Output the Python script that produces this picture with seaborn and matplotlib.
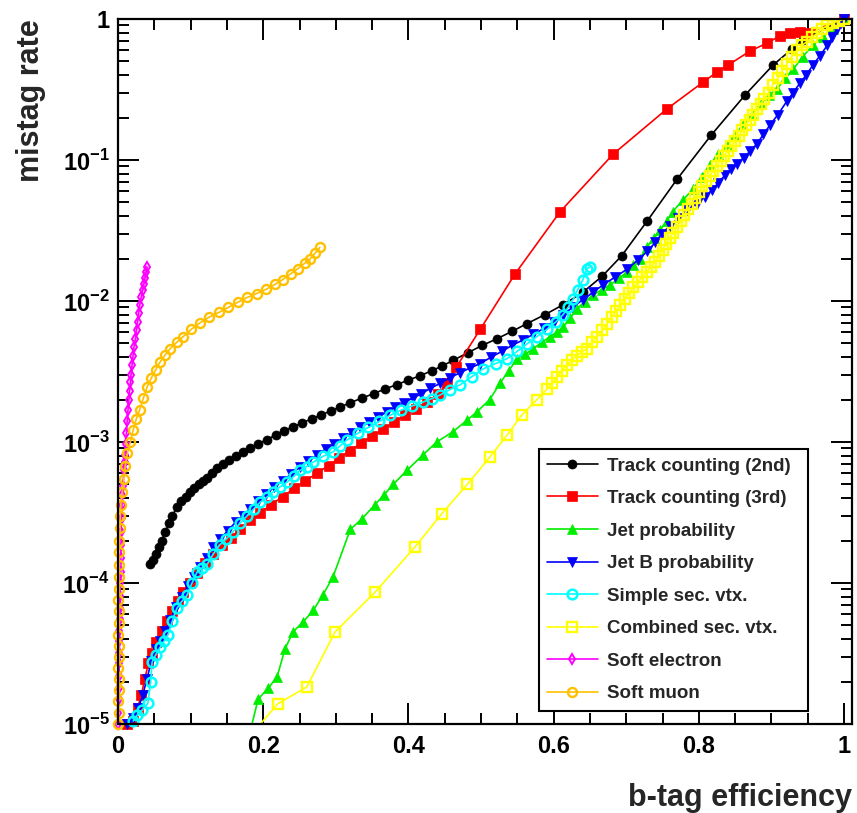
import matplotlib
matplotlib.use("Agg")
import matplotlib.pyplot as plt
import seaborn as sns
import numpy as np
from matplotlib.ticker import FixedLocator, FixedFormatter, LogLocator, NullFormatter, MultipleLocator

# ---------------- data ----------------
tc2_x = [0.044, 0.048, 0.052, 0.056, 0.060, 0.065, 0.070, 0.075, 0.081, 0.087, 0.093, 0.099, 0.105,
         0.111, 0.117, 0.123, 0.130, 0.137, 0.145, 0.153, 0.162, 0.172, 0.182, 0.193, 0.205, 0.217,
         0.229, 0.241, 0.254, 0.267, 0.280, 0.293, 0.306, 0.320, 0.336, 0.352, 0.368, 0.384, 0.400,
         0.416, 0.432, 0.446, 0.462, 0.482, 0.502, 0.522, 0.543, 0.563, 0.588, 0.613, 0.640, 0.667,
         0.694, 0.729, 0.770, 0.817, 0.864, 0.902, 0.928, 0.943, 1.0]
tc2_y = [1.36e-4, 1.45e-4, 1.6e-4, 1.8e-4, 2.0e-4, 2.3e-4, 2.65e-4, 3.0e-4, 3.45e-4, 3.8e-4, 4.1e-4,
         4.4e-4, 4.7e-4, 5.0e-4, 5.3e-4, 5.6e-4, 6.0e-4, 6.5e-4, 7.0e-4, 7.5e-4, 8.0e-4, 8.5e-4,
         9.0e-4, 9.7e-4, 1.04e-3, 1.12e-3, 1.2e-3, 1.28e-3, 1.37e-3, 1.46e-3, 1.56e-3, 1.66e-3,
         1.77e-3, 1.9e-3, 2.05e-3, 2.2e-3, 2.38e-3, 2.55e-3, 2.75e-3, 2.95e-3, 3.2e-3, 3.45e-3,
         3.8e-3, 4.3e-3, 4.85e-3, 5.4e-3, 6.1e-3, 6.9e-3, 8.0e-3, 9.4e-3, 1.15e-2, 1.5e-2, 2.1e-2,
         3.7e-2, 7.3e-2, 0.15, 0.29, 0.47, 0.61, 0.71, 1.0]

tc3_x = [0.012, 0.020, 0.027, 0.032, 0.037, 0.042, 0.047, 0.053, 0.060, 0.067, 0.074, 0.082, 0.090,
         0.099, 0.109, 0.120, 0.131, 0.143, 0.155, 0.168, 0.182, 0.196, 0.211, 0.227, 0.243, 0.258,
         0.274, 0.290, 0.305, 0.320, 0.335, 0.350, 0.365, 0.380, 0.395, 0.410, 0.426, 0.441, 0.453,
         0.466, 0.499, 0.547, 0.609, 0.682, 0.756, 0.806, 0.825, 0.840, 0.870, 0.894, 0.912, 0.926,
         0.939, 0.950, 1.0]
tc3_y = [1.0e-5, 1.05e-5, 1.3e-5, 1.6e-5, 2.1e-5, 2.7e-5, 3.2e-5, 3.8e-5, 4.6e-5, 5.4e-5, 6.3e-5,
         7.4e-5, 8.6e-5, 1.0e-4, 1.18e-4, 1.38e-4, 1.6e-4, 1.85e-4, 2.1e-4, 2.4e-4, 2.8e-4, 3.15e-4,
         3.6e-4, 4.1e-4, 4.7e-4, 5.3e-4, 6.0e-4, 6.8e-4, 7.7e-4, 8.7e-4, 9.8e-4, 1.1e-3, 1.23e-3,
         1.38e-3, 1.55e-3, 1.72e-3, 1.92e-3, 2.2e-3, 2.6e-3, 3.4e-3, 6.3e-3, 1.56e-2, 4.3e-2, 0.11,
         0.23, 0.357, 0.42, 0.47, 0.59, 0.675, 0.76, 0.80, 0.81, 0.80, 1.0]

jp_x = [0.180, 0.193, 0.207, 0.219, 0.230, 0.241, 0.255, 0.269, 0.282, 0.296, 0.320, 0.336, 0.354,
        0.366, 0.379, 0.398, 0.420, 0.439, 0.461, 0.481, 0.494, 0.512, 0.526, 0.538, 0.550, 0.561,
        0.572, 0.584, 0.595, 0.604, 0.613, 0.623, 0.632, 0.643, 0.654, 0.666, 0.678, 0.690, 0.701,
        0.710, 0.719, 0.728, 0.738, 0.747, 0.756, 0.764, 0.778, 0.792, 0.804, 0.815, 0.827, 0.839,
        0.850, 0.861, 0.873, 0.885, 0.897, 0.908, 0.919, 0.930, 0.943, 0.957, 0.971, 0.985, 1.0]
jp_y = [8.0e-6, 1.5e-5, 1.8e-5, 2.15e-5, 3.4e-5, 4.5e-5, 5.3e-5, 6.4e-5, 8.2e-5, 1.1e-4, 2.4e-4,
        2.85e-4, 3.6e-4, 4.2e-4, 5.0e-4, 6.3e-4, 8.1e-4, 1.0e-3, 1.18e-3, 1.43e-3, 1.63e-3, 2.0e-3,
        2.6e-3, 3.2e-3, 3.9e-3, 4.2e-3, 4.6e-3, 5.1e-3, 5.6e-3, 6.0e-3, 6.5e-3, 7.6e-3, 8.8e-3,
        9.9e-3, 1.1e-2, 1.2e-2, 1.3e-2, 1.45e-2, 1.6e-2, 1.8e-2, 2.0e-2, 2.4e-2, 2.8e-2, 3.2e-2,
        3.7e-2, 4.3e-2, 5.2e-2, 6.2e-2, 7.6e-2, 9.2e-2, 0.11, 0.128, 0.15, 0.177, 0.21, 0.25, 0.29,
        0.32, 0.38, 0.44, 0.54, 0.65, 0.75, 0.85, 1.0]

jbp_x = [0.013, 0.020, 0.028, 0.034, 0.040, 0.046, 0.052, 0.058, 0.065, 0.072, 0.080, 0.088, 0.096,
         0.104, 0.113, 0.122, 0.131, 0.141, 0.151, 0.162, 0.172, 0.182, 0.193, 0.204, 0.215, 0.227,
         0.238, 0.250, 0.262, 0.274, 0.286, 0.298, 0.310, 0.322, 0.334, 0.346, 0.358, 0.370, 0.382,
         0.394, 0.406, 0.418, 0.430, 0.4435, 0.457, 0.471, 0.485, 0.499, 0.514, 0.529, 0.543, 0.558,
         0.572, 0.587, 0.600, 0.613, 0.626, 0.640, 0.654, 0.668, 0.684, 0.701, 0.716, 0.729, 0.740,
         0.749, 0.760, 0.772, 0.784, 0.797, 0.808, 0.818, 0.827, 0.836, 0.845, 0.853, 0.862, 0.871,
         0.880, 0.889, 0.898, 0.909, 0.921, 0.930, 0.939, 0.948, 0.957, 0.967, 0.977, 0.984, 0.990,
         0.996, 1.0]
jbp_y = [1.0e-5, 1.1e-5, 1.3e-5, 1.6e-5, 2.1e-5, 2.8e-5, 3.4e-5, 3.9e-5, 4.6e-5, 5.5e-5, 6.8e-5,
         8.0e-5, 9.5e-5, 1.1e-4, 1.3e-4, 1.5e-4, 1.8e-4, 2.05e-4, 2.35e-4, 2.7e-4, 3.0e-4, 3.35e-4,
         3.8e-4, 4.3e-4, 4.8e-4, 5.3e-4, 5.9e-4, 6.6e-4, 7.3e-4, 8.1e-4, 8.9e-4, 9.7e-4, 1.06e-3,
         1.16e-3, 1.27e-3, 1.38e-3, 1.5e-3, 1.63e-3, 1.76e-3, 1.9e-3, 2.05e-3, 2.2e-3, 2.4e-3,
         2.6e-3, 2.85e-3, 3.1e-3, 3.35e-3, 3.6e-3, 4.0e-3, 4.4e-3, 4.85e-3, 5.3e-3, 5.8e-3, 6.4e-3,
         7.1e-3, 8.0e-3, 9.0e-3, 1.02e-2, 1.15e-2, 1.3e-2, 1.47e-2, 1.68e-2, 1.95e-2, 2.25e-2,
         2.6e-2, 3.0e-2, 3.4e-2, 3.9e-2, 4.4e-2, 4.9e-2, 5.5e-2, 6.1e-2, 6.9e-2, 7.8e-2, 8.6e-2,
         9.4e-2, 0.104, 0.116, 0.13, 0.152, 0.177, 0.21, 0.26, 0.30, 0.35, 0.40, 0.47, 0.55, 0.65,
         0.74, 0.85, 0.93, 1.0]

ssv_x = [0.021, 0.026, 0.033, 0.041, 0.045, 0.047, 0.052, 0.058, 0.064, 0.069, 0.075, 0.081, 0.088,
         0.095, 0.102, 0.109, 0.116, 0.123, 0.131, 0.140, 0.149, 0.158, 0.168, 0.178, 0.187, 0.196,
         0.205, 0.213, 0.223, 0.233, 0.242, 0.251, 0.260, 0.269, 0.282, 0.296, 0.306, 0.315, 0.330,
         0.345, 0.360, 0.375, 0.390, 0.405, 0.420, 0.432, 0.4435, 0.457, 0.471, 0.487, 0.503, 0.520,
         0.536, 0.550, 0.563, 0.577, 0.591, 0.603, 0.613, 0.620, 0.627, 0.633, 0.640, 0.646, 0.650]
ssv_y = [1.05e-5, 1.15e-5, 1.25e-5, 1.4e-5, 2.0e-5, 2.75e-5, 3.1e-5, 3.5e-5, 3.9e-5, 4.3e-5, 5.4e-5,
         6.6e-5, 7.4e-5, 8.2e-5, 1.0e-4, 1.2e-4, 1.28e-4, 1.36e-4, 1.6e-4, 1.86e-4, 2.05e-4, 2.3e-4,
         2.65e-4, 3.0e-4, 3.35e-4, 3.75e-4, 4.05e-4, 4.4e-4, 4.8e-4, 5.2e-4, 5.7e-4, 6.3e-4, 6.7e-4,
         7.2e-4, 7.9e-4, 8.5e-4, 9.4e-4, 1.03e-3, 1.15e-3, 1.27e-3, 1.4e-3, 1.55e-3, 1.68e-3, 1.8e-3,
         1.92e-3, 2.03e-3, 2.15e-3, 2.35e-3, 2.54e-3, 2.9e-3, 3.3e-3, 3.6e-3, 3.9e-3, 4.4e-3, 4.95e-3,
         5.6e-3, 6.3e-3, 7.1e-3, 8.0e-3, 9.0e-3, 1.03e-2, 1.2e-2, 1.4e-2, 1.69e-2, 1.75e-2]

csv_x = [0.180, 0.220, 0.260, 0.299, 0.354, 0.409, 0.446, 0.481, 0.512, 0.536, 0.556, 0.577, 0.591,
         0.598, 0.605, 0.611, 0.618, 0.625, 0.632, 0.639, 0.646, 0.653, 0.660, 0.667, 0.674, 0.680,
         0.686, 0.692, 0.698, 0.704, 0.710, 0.716, 0.722, 0.728, 0.734, 0.740, 0.745, 0.750, 0.755,
         0.760, 0.765, 0.770, 0.775, 0.780, 0.785, 0.790, 0.795, 0.800, 0.805, 0.810, 0.815, 0.820,
         0.825, 0.830, 0.835, 0.840, 0.845, 0.850, 0.855, 0.860, 0.865, 0.870, 0.875, 0.880, 0.885,
         0.890, 0.896, 0.902, 0.909, 0.915, 0.921, 0.928, 0.935, 0.942, 0.949, 0.956, 0.963, 0.970,
         0.977, 0.985, 0.993, 1.0]
csv_y = [8.0e-6, 1.39e-5, 1.83e-5, 4.5e-5, 8.6e-5, 1.8e-4, 3.1e-4, 5.0e-4, 7.8e-4, 1.12e-3, 1.55e-3,
         2.0e-3, 2.38e-3, 2.6e-3, 2.9e-3, 3.2e-3, 3.5e-3, 3.8e-3, 4.1e-3, 4.35e-3, 4.6e-3, 5.1e-3,
         5.6e-3, 6.2e-3, 6.9e-3, 7.7e-3, 8.5e-3, 9.3e-3, 1.03e-2, 1.14e-2, 1.25e-2, 1.36e-2, 1.48e-2,
         1.6e-2, 1.75e-2, 1.9e-2, 2.1e-2, 2.3e-2, 2.55e-2, 2.8e-2, 3.05e-2, 3.35e-2, 3.7e-2, 4.1e-2,
         4.5e-2, 4.9e-2, 5.4e-2, 5.9e-2, 6.5e-2, 7.1e-2, 7.7e-2, 8.4e-2, 9.1e-2, 9.9e-2, 0.107, 0.116,
         0.126, 0.137, 0.149, 0.162, 0.177, 0.193, 0.21, 0.23, 0.25, 0.27, 0.30, 0.34, 0.38, 0.43,
         0.48, 0.54, 0.60, 0.65, 0.69, 0.74, 0.79, 0.85, 0.90, 0.94, 0.97, 1.0]

se_x = [0.000, 0.000, 0.001, 0.001, 0.001, 0.002, 0.002, 0.002, 0.002, 0.003, 0.003, 0.003, 0.003,
        0.004, 0.004, 0.004, 0.004, 0.005, 0.0055, 0.006, 0.007, 0.008, 0.009, 0.0096, 0.0105, 0.0115,
        0.0126, 0.0138, 0.015, 0.016, 0.017, 0.018, 0.0193, 0.0207, 0.022, 0.024, 0.0255, 0.027,
        0.0285, 0.030, 0.032, 0.034, 0.0355, 0.037, 0.0385, 0.040]
se_y = [1.0e-5, 1.2e-5, 1.5e-5, 1.8e-5, 2.2e-5, 2.7e-5, 3.2e-5, 3.9e-5, 4.6e-5, 5.6e-5, 6.6e-5, 8.1e-5,
        1.0e-4, 1.2e-4, 1.5e-4, 1.85e-4, 2.3e-4, 2.9e-4, 3.6e-4, 4.2e-4, 4.9e-4, 6.3e-4, 7.2e-4,
        8.1e-4, 9.6e-4, 1.15e-3, 1.4e-3, 1.7e-3, 2.0e-3, 2.3e-3, 2.65e-3, 3.0e-3, 3.5e-3, 4.1e-3,
        4.7e-3, 5.4e-3, 6.2e-3, 7.1e-3, 8.2e-3, 9.4e-3, 1.07e-2, 1.2e-2, 1.32e-2, 1.45e-2, 1.6e-2,
        1.74e-2]

smu_x = [0.000, 0.001, 0.000, 0.002, 0.001, 0.000, 0.002, 0.001, 0.000, 0.002, 0.001, 0.000, 0.002,
         0.001, 0.002, 0.001, 0.002, 0.003, 0.003, 0.004, 0.006, 0.008, 0.010, 0.013, 0.017, 0.021,
         0.025, 0.030, 0.035, 0.040, 0.046, 0.052, 0.058, 0.065, 0.072, 0.081, 0.090, 0.101, 0.113,
         0.126, 0.139, 0.152, 0.165, 0.178, 0.191, 0.204, 0.216, 0.227, 0.238, 0.248, 0.257, 0.265,
         0.272, 0.278]
smu_y = [1.0e-5, 1.2e-5, 1.45e-5, 1.75e-5, 2.1e-5, 2.5e-5, 3.0e-5, 3.6e-5, 4.3e-5, 5.2e-5, 6.3e-5,
         7.6e-5, 9.1e-5, 1.1e-4, 1.35e-4, 1.65e-4, 2.0e-4, 2.45e-4, 3.0e-4, 3.6e-4, 4.4e-4, 5.5e-4,
         6.8e-4, 8.3e-4, 1.0e-3, 1.22e-3, 1.45e-3, 1.7e-3, 2.05e-3, 2.45e-3, 2.85e-3, 3.25e-3, 3.7e-3,
         4.15e-3, 4.6e-3, 5.1e-3, 5.6e-3, 6.3e-3, 7.0e-3, 7.7e-3, 8.3e-3, 9.0e-3, 9.8e-3, 1.06e-2,
         1.13e-2, 1.21e-2, 1.31e-2, 1.42e-2, 1.56e-2, 1.7e-2, 1.85e-2, 2.0e-2, 2.2e-2, 2.4e-2]

labels = ["Track counting (2nd)", "Track counting (3rd)", "Jet probability", "Jet B probability",
          "Simple sec. vtx.", "Combined sec. vtx.", "Soft electron", "Soft muon"]
x_ticks = [0, 0.2, 0.4, 0.6, 0.8, 1]
x_tick_labels = ["0", "0.2", "0.4", "0.6", "0.8", "1"]
y_ticks = [1e-5, 1e-4, 1e-3, 1e-2, 1e-1, 1]
y_tick_labels = [r"10$^{\mathbf{-5}}$", r"10$^{\mathbf{-4}}$", r"10$^{\mathbf{-3}}$",
                 r"10$^{\mathbf{-2}}$", r"10$^{\mathbf{-1}}$", "1"]

# ---------------- styling ----------------
sns.set_theme(style="ticks")
plt.rcParams["font.family"] = ["Liberation Sans", "DejaVu Sans"]
plt.rcParams["mathtext.fontset"] = "custom"
plt.rcParams["mathtext.rm"] = "Liberation Sans:bold"
plt.rcParams["mathtext.bf"] = "Liberation Sans:bold"

fig = plt.figure(figsize=(8.57, 8.13), dpi=100)
fig.patch.set_facecolor("white")
ax = fig.add_axes([118 / 857, 1 - 724 / 813, (852 - 118) / 857, (724 - 19) / 813])
ax.set_facecolor("white")

series = [
    (tc2_x, tc2_y, dict(color="#000000", marker="o", ms=6.5, mfc="#000000", mew=0.5, clip=False)),
    (tc3_x, tc3_y, dict(color="#FF0000", marker="s", ms=6.5, mfc="#FF0000", mew=0.5, clip=False)),
    (jp_x, jp_y, dict(color="#00EE00", marker="^", ms=7, mfc="#00EE00", mew=0.5, clip=True)),
    (jbp_x, jbp_y, dict(color="#0000FF", marker="v", ms=7, mfc="#0000FF", mew=0.5, clip=False)),
    (ssv_x, ssv_y, dict(color="#00FFFF", marker="o", ms=7, mfc="none", mew=1.8, clip=False)),
    (csv_x, csv_y, dict(color="#FFFF00", marker="s", ms=7, mfc="none", mew=1.7, clip=True)),
    (se_x, se_y, dict(color="#FF00FF", marker="d", ms=5.5, mfc="none", mew=1.4, clip=False)),
    (smu_x, smu_y, dict(color="#FFC000", marker="o", ms=6.5, mfc="none", mew=1.7, clip=False)),
]

for (xs, ys, st), lab in zip(series, labels):
    sns.lineplot(x=xs, y=ys, ax=ax, sort=False, estimator=None, color=st["color"],
                 marker=st["marker"], markersize=st["ms"], markerfacecolor=st["mfc"],
                 markeredgecolor=st["color"], markeredgewidth=st["mew"], linewidth=1.2,
                 label=lab, clip_on=st["clip"])

ax.set_yscale("log")
ax.set_xlim(0, 1.011)
ax.set_ylim(1e-5, 1)

ax.xaxis.set_major_locator(FixedLocator(x_ticks))
ax.xaxis.set_major_formatter(FixedFormatter(x_tick_labels))
ax.xaxis.set_minor_locator(MultipleLocator(0.05))
ax.yaxis.set_major_locator(FixedLocator(y_ticks))
ax.yaxis.set_major_formatter(FixedFormatter(y_tick_labels))
ax.yaxis.set_minor_locator(LogLocator(base=10, subs=np.arange(2, 10), numticks=20))
ax.yaxis.set_minor_formatter(NullFormatter())

ax.tick_params(which="both", direction="in", top=True, right=True, colors="black", width=1.4)
ax.tick_params(which="major", length=15)
ax.tick_params(which="minor", length=8)
ax.tick_params(axis="x", which="major", labelsize=17, pad=8)
ax.tick_params(axis="y", which="major", labelsize=17, pad=6)
for t in ax.get_xticklabels() + ax.get_yticklabels():
    t.set_fontweight("bold")
for s in ax.spines.values():
    s.set_color("black")
    s.set_linewidth(1.6)

ax.set_xlabel("b-tag efficiency", loc="right", fontsize=22, fontweight="bold", labelpad=18)
ax.set_ylabel("mistag rate", loc="top", fontsize=22, fontweight="bold", labelpad=12)

leg = ax.legend(loc="upper left", bbox_to_anchor=((539 - 118) / 734, (724 - 714) / 705,
                                                  (808 - 539) / 734, (714 - 449) / 705),
                mode="expand", numpoints=1, frameon=True, fancybox=False, framealpha=1,
                edgecolor="black", prop={"weight": "bold", "size": 13.5}, handlelength=2.67,
                handletextpad=0.53, labelspacing=0.82, borderpad=0.45, borderaxespad=0)
leg.get_frame().set_linewidth(1.5)

fig.savefig("out.png", dpi=100, facecolor="white")
